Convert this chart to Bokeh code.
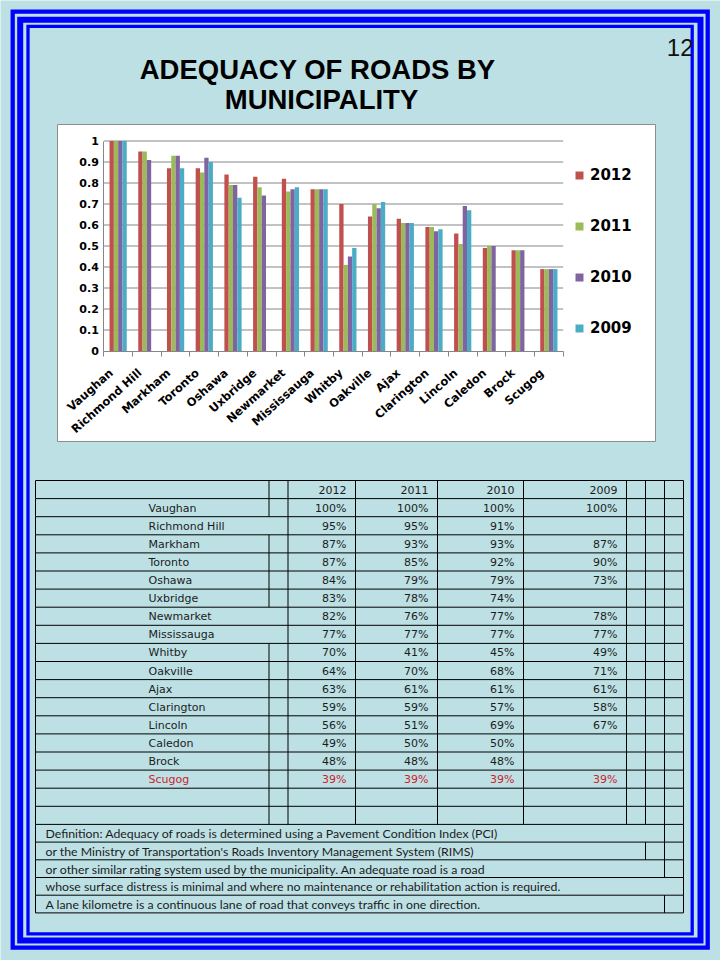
import numpy as np
from bokeh.plotting import figure
from bokeh.models import (Range1d, LinearAxis, FixedTicker, Legend, LegendItem,
                          ColumnDataSource)
from bokeh.core.properties import value
from bokeh.embed import file_html
from bokeh.resources import INLINE

# ---------------- data ----------------
municipalities = ["Vaughan", "Richmond Hill", "Markham", "Toronto", "Oshawa",
                  "Uxbridge", "Newmarket", "Mississauga", "Whitby", "Oakville",
                  "Ajax", "Clarington", "Lincoln", "Caledon", "Brock", "Scugog"]
years = ["2012", "2011", "2010", "2009"]
adequacy_2012 = [100, 95, 87, 87, 84, 83, 82, 77, 70, 64, 63, 59, 56, 49, 48, 39]
adequacy_2011 = [100, 95, 93, 85, 79, 78, 76, 77, 41, 70, 61, 59, 51, 50, 48, 39]
adequacy_2010 = [100, 91, 93, 92, 79, 74, 77, 77, 45, 68, 61, 57, 69, 50, 48, 39]
adequacy_2009 = [100, None, 87, 90, 73, None, 78, 77, 49, 71, 61, 58, 67, None, None, 39]
y_ticks = [0.0, 0.1, 0.2, 0.3, 0.4, 0.5, 0.6, 0.7, 0.8, 0.9, 1.0]
y_tick_labels = ["0", "0.1", "0.2", "0.3", "0.4", "0.5", "0.6", "0.7", "0.8", "0.9", "1"]
title_lines = ["ADEQUACY  OF ROADS BY", "MUNICIPALITY"]
page_number = "12"
definition_lines = [
    "Definition: Adequacy of roads is determined using a Pavement Condition Index (PCI)",
    " or the Ministry of Transportation's Roads Inventory Management System (RIMS)",
    "or other similar rating system used by the municipality. An adequate road is a road",
    "whose surface distress is minimal and where no maintenance or rehabilitation action is required.",
    "A lane kilometre is a continuous lane of road that conveys traffic in one direction.",
]
highlighted = "Scugog"
merged_name_rows = ["Richmond Hill", "Newmarket", "Mississauga"]

series = [adequacy_2012, adequacy_2011, adequacy_2010, adequacy_2009]

# ---------------- styles / layout ----------------
W, H = 720, 960
BG = "#BDE0E4"
BLUE = "#0000FF"
series_colors = ["#C0504D", "#9BBB59", "#8064A2", "#4BACC6"]
TXT = "#1c1c1c"
RED_TXT = "#D0202A"

p = figure(width=W, height=H, x_range=Range1d(0, W), y_range=Range1d(H, 0),
           x_axis_type=None, y_axis_type=None, toolbar_location=None,
           output_backend="svg", min_border=0, background_fill_color=BG,
           border_fill_color=BG, outline_line_color=None)

# slide border (three blue frames)
frames = [(12.2, 11.2, 707.2, 947.2, 4.3),
          (19.7, 19.2, 700.0, 940.0, 6.0),
          (27.5, 25.8, 691.7, 933.3, 3.3)]
for l, t, r, b, w in frames:
    p.quad(left=[l], right=[r], top=[t], bottom=[b], fill_color=None,
           line_color=BLUE, line_width=w, line_join="miter")

# title and page number
p.text(x=[321, 321], y=[69, 99], text=title_lines, text_font=value("Liberation Sans"),
       text_font_size="27.5px", text_font_style="bold", text_align="center",
       text_baseline="middle", text_color="#000000")
p.text(x=[693], y=[47], text=[page_number], text_font=value("Liberation Sans"),
       text_font_size="24px", text_align="right", text_baseline="middle",
       text_color="#111111")

# ---------------- chart ----------------
BOX_L, BOX_T, BOX_R, BOX_B = 57, 124, 655, 441
p.quad(left=[BOX_L], right=[BOX_R], top=[BOX_T], bottom=[BOX_B],
       fill_color="#FFFFFF", line_color="#8C8C8C", line_width=1)

PL_L, PL_R, PL_T, PL_B = 103.3, 562.7, 140.5, 350.5
n = len(municipalities)
unit_x = (PL_R - PL_L) / n
unit_y = (PL_B - PL_T) / (y_ticks[-1] - y_ticks[0])
cx0 = -PL_L / unit_x
cy0 = -(H - PL_B) / unit_y
p.extra_x_ranges = {"cx": Range1d(cx0, cx0 + W / unit_x)}
p.extra_y_ranges = {"cy": Range1d(cy0, cy0 + H / unit_y)}

# gridlines
p.segment(x0=[0] * (len(y_ticks) - 1), x1=[n] * (len(y_ticks) - 1),
          y0=y_ticks[1:], y1=y_ticks[1:], line_color="#868686", line_width=1,
          x_range_name="cx", y_range_name="cy")

bar_w = 0.15
offsets = [(k - 1.5) * bar_w for k in range(len(years))]
renderers = []
for k, (vals, col) in enumerate(zip(series, series_colors)):
    src = ColumnDataSource(dict(
        x=[i + 0.5 + offsets[k] for i in range(n)],
        top=np.array([np.nan if v is None else v / 100 for v in vals], dtype=float)))
    r = p.vbar(x="x", top="top", bottom=0, width=bar_w, source=src,
               fill_color=col, line_color=None, x_range_name="cx", y_range_name="cy")
    renderers.append(r)

# y axis
yaxis = LinearAxis(x_range_name="cx", y_range_name="cy", fixed_location=0,
                   bounds=(y_ticks[0], y_ticks[-1]),
                   ticker=FixedTicker(ticks=y_ticks, minor_ticks=[]),
                   major_label_overrides=dict(zip(y_ticks, y_tick_labels)),
                   axis_line_color="#868686", major_tick_out=0, major_tick_in=0,
                   minor_tick_out=0, minor_tick_in=0, major_label_standoff=5,
                   major_label_text_font="DejaVu Sans", major_label_text_font_style="bold",
                   major_label_text_font_size="11px", major_label_text_color="#000000")
p.add_layout(yaxis, "left")

# x axis line with tick marks between categories
xaxis = LinearAxis(x_range_name="cx", y_range_name="cy", fixed_location=0,
                   bounds=(0, n), ticker=FixedTicker(ticks=list(range(n + 1)), minor_ticks=[]),
                   axis_line_color="#868686", major_tick_line_color="#868686",
                   major_tick_out=5, major_tick_in=0, minor_tick_out=0, minor_tick_in=0,
                   major_label_text_color=None)
p.add_layout(xaxis, "below")

# category labels
label_shift = 7 / unit_x
label_ticks = [i + 0.5 - label_shift for i in range(n)]
xlabels = LinearAxis(x_range_name="cx", y_range_name="cy", fixed_location=0,
                     ticker=FixedTicker(ticks=label_ticks, minor_ticks=[]),
                     major_label_overrides=dict(zip(label_ticks, municipalities)),
                     axis_line_color=None, major_tick_line_color=None,
                     major_tick_out=0, major_tick_in=0, minor_tick_out=0, minor_tick_in=0,
                     major_label_orientation=0.73, major_label_standoff=20,
                     major_label_text_font="DejaVu Sans", major_label_text_font_style="bold",
                     major_label_text_font_size="11.5px", major_label_text_color="#000000")
p.add_layout(xlabels, "below")

legend = Legend(items=[LegendItem(label=y, renderers=[r]) for y, r in zip(years, renderers)],
                location=(574, H - 338), padding=0, spacing=31, margin=0,
                glyph_width=10, glyph_height=10, label_height=20, label_standoff=6,
                label_text_font="DejaVu Sans", label_text_font_style="bold",
                label_text_font_size="15px", label_text_color="#000000",
                background_fill_alpha=0, border_line_alpha=0)
p.add_layout(legend)

# ---------------- table ----------------
cols = [35, 268.5, 287.5, 355, 437, 523, 626, 645, 664, 683]
T_TOP = 480
n_body = 1 + n + 2
row_edges = [T_TOP + 18.1 * k for k in range(n_body + 1)]
for k in range(1, len(definition_lines) + 1):
    row_edges.append(row_edges[n_body] + 17.7 * k)
T_L, T_R = cols[0], cols[-1]

hx0, hx1, hy = [], [], []
for e in row_edges:
    hx0.append(T_L); hx1.append(T_R); hy.append(e)
p.segment(x0=hx0, x1=hx1, y0=hy, y1=hy, line_color="#000000", line_width=1)

def_inner = [[664], [645, 664], [664], [], [664]]
vx, vy0, vy1 = [], [], []
for ri in range(len(row_edges) - 1):
    if ri < n_body:
        inner = list(cols[1:-1])
        if 1 <= ri <= n and municipalities[ri - 1] in merged_name_rows:
            inner.remove(268.5)
    else:
        inner = def_inner[ri - n_body]
    for x in [T_L, T_R] + inner:
        vx.append(x); vy0.append(row_edges[ri]); vy1.append(row_edges[ri + 1])
p.segment(x0=vx, x1=vx, y0=vy0, y1=vy1, line_color="#000000", line_width=1)

def row_mid(ri):
    return (row_edges[ri] + row_edges[ri + 1]) / 2 + 0.5

year_right = [cols[3 + k] - 9 for k in range(len(years))]
tx, ty, tt, tc, ta = [], [], [], [], []
for k, yv in enumerate(years):
    tx.append(year_right[k]); ty.append(row_mid(0)); tt.append(yv); tc.append(TXT); ta.append("right")
for i, name in enumerate(municipalities):
    colr = RED_TXT if name == highlighted else TXT
    tx.append(148); ty.append(row_mid(i + 1)); tt.append(name); tc.append(colr); ta.append("left")
    for k, vals in enumerate(series):
        if vals[i] is not None:
            tx.append(year_right[k]); ty.append(row_mid(i + 1)); tt.append(f"{vals[i]}%")
            tc.append(colr); ta.append("right")
p.text(x="x", y="y", text="t", text_color="c", text_align="a",
       source=ColumnDataSource(dict(x=tx, y=ty, t=tt, c=tc, a=ta)),
       text_font=value("DejaVu Sans"), text_font_size="11px", text_baseline="middle")

p.text(x=[45] * len(definition_lines),
       y=[row_mid(n_body + k) for k in range(len(definition_lines))],
       text=definition_lines, text_font=value("Lato"), text_font_size="12.3px",
       text_baseline="middle", text_align="left", text_color=TXT)

open("out.html", "w").write(file_html(p, INLINE))
